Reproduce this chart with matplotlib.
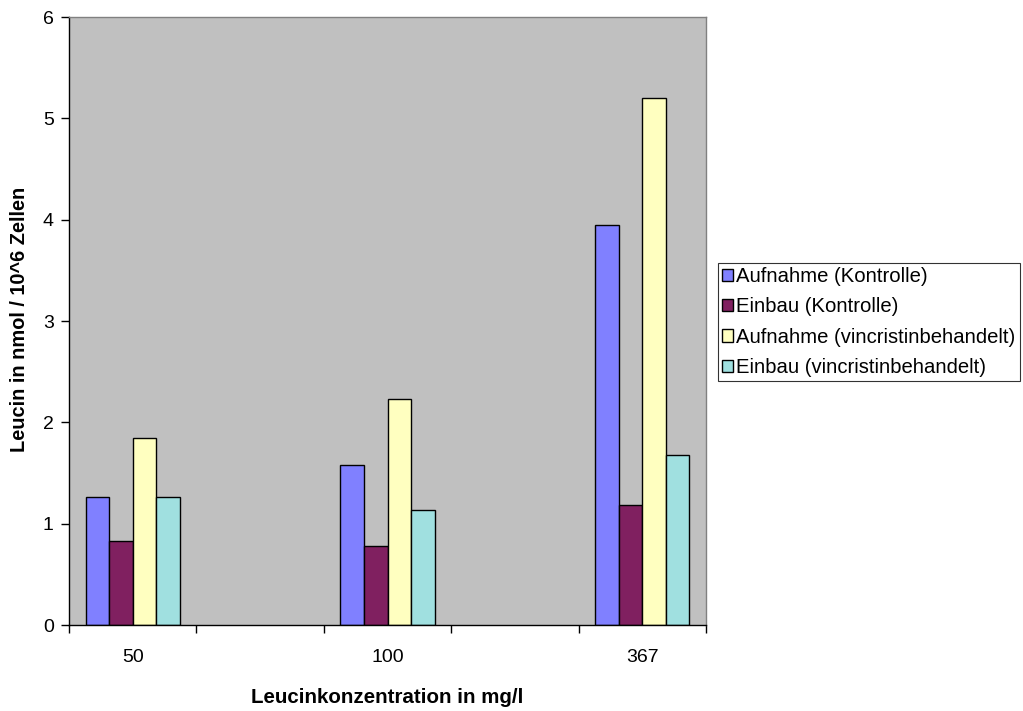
import matplotlib
matplotlib.use("Agg")
import matplotlib.pyplot as plt
import numpy as np

categories = ["50", "", "100", "", "367"]
series_names = ["Aufnahme (Kontrolle)", "Einbau (Kontrolle)",
                "Aufnahme (vincristinbehandelt)", "Einbau (vincristinbehandelt)"]
aufnahme_kontrolle = [1.26, np.nan, 1.58, np.nan, 3.95]
einbau_kontrolle = [0.83, np.nan, 0.78, np.nan, 1.18]
aufnahme_vincristin = [1.85, np.nan, 2.23, np.nan, 5.20]
einbau_vincristin = [1.26, np.nan, 1.13, np.nan, 1.68]
series_values = [aufnahme_kontrolle, einbau_kontrolle, aufnahme_vincristin, einbau_vincristin]
colors = ["#8080FF", "#802060", "#FFFFC0", "#A0E0E0"]

plt.rcParams['font.family'] = ['Liberation Sans', 'DejaVu Sans']

fig = plt.figure(figsize=(10.23, 7.11), dpi=100)
ax = fig.add_axes([69/1023, 1-625/711, (706-69)/1023, (625-17)/711])
ax.set_facecolor("#C0C0C0")

x = np.arange(len(categories))
w = 0.185
for i, (vals, c, name) in enumerate(zip(series_values, colors, series_names)):
    ax.bar(x + (i - 1.5) * w, vals, width=w, color=c, edgecolor="black",
           linewidth=1.0, label=name)

ax.set_xlim(-0.5, len(categories) - 0.5)
ax.set_ylim(0, 6)
ax.set_yticks(range(0, 7))
ax.tick_params(axis='y', direction='out', length=6, width=1, labelsize=14, pad=5)

# category boundaries as tick marks
ax.set_xticks(np.arange(-0.5, len(categories)), minor=True)
ax.set_xticks(x)
ax.set_xticklabels(categories)
ax.tick_params(axis='x', which='major', length=0, labelsize=14, pad=17)
ax.tick_params(axis='x', which='minor', direction='out', length=6, width=1)

ax.spines['left'].set_color('black')
ax.spines['bottom'].set_color('black')
ax.spines['top'].set_color('#808080')
ax.spines['right'].set_color('#808080')
for s in ax.spines.values():
    s.set_linewidth(1.0)

ax.set_xlabel("Leucinkonzentration in mg/l", fontsize=14.8, fontweight='bold', labelpad=16)
fig.text(20/1023, 1-319/711, "Leucin in nmol / 10^6 Zellen", fontsize=14.4,
         fontweight='bold', rotation=90, ha='center', va='center')

leg = fig.legend(loc='upper left', bbox_to_anchor=(718/1023, 1-263/711),
                 frameon=True, fancybox=False, edgecolor='black', fontsize=14.6,
                 handlelength=0.55, handleheight=0.55, handletextpad=0.15,
                 borderpad=0.2, labelspacing=0.56, borderaxespad=0)
leg.get_frame().set_linewidth(0.8)

fig.savefig("out.png", dpi=100)
